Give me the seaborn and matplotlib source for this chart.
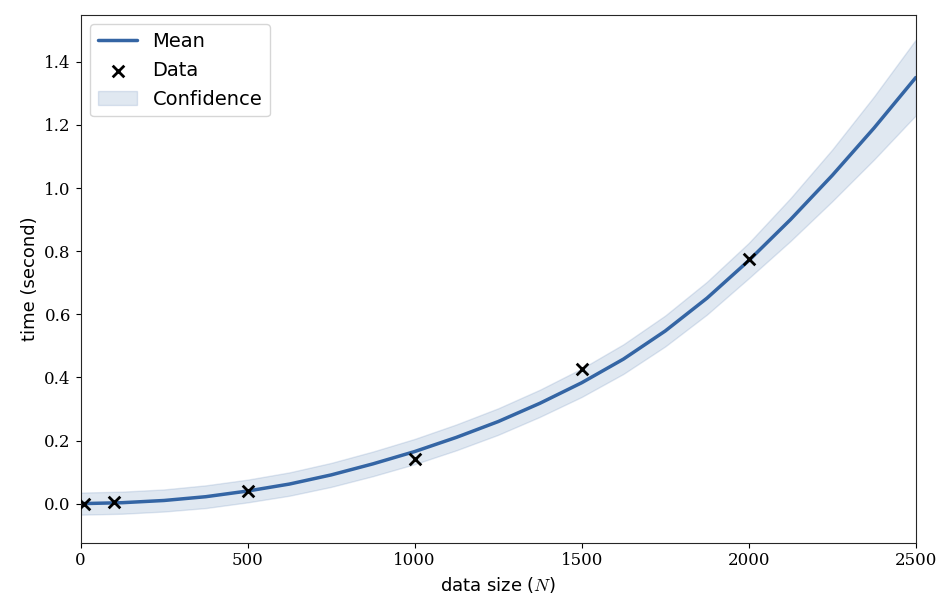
import matplotlib
matplotlib.use("Agg")
import matplotlib.pyplot as plt
import seaborn as sns
import pandas as pd

data_x = [10, 100, 500, 1000, 1500, 2000]
data_y = [0.0, 0.004, 0.04, 0.14, 0.425, 0.775]
grid_x = [0, 125, 250, 375, 500, 625, 750, 875, 1000, 1125, 1250, 1375, 1500,
          1625, 1750, 1875, 2000, 2125, 2250, 2375, 2500]
mean_y = [0.0, 0.003, 0.01, 0.022, 0.04, 0.062, 0.091, 0.126, 0.165, 0.21, 0.26,
          0.318, 0.383, 0.458, 0.547, 0.651, 0.77, 0.9, 1.04, 1.19, 1.35]
half_w = [0.035, 0.035, 0.035, 0.036, 0.036, 0.037, 0.038, 0.039, 0.04, 0.041,
          0.042, 0.043, 0.045, 0.047, 0.049, 0.052, 0.056, 0.068, 0.082, 0.1, 0.12]

sns.set_style("ticks")
plt.rcParams['mathtext.fontset'] = 'cm'
for k in ['text.color', 'axes.labelcolor', 'xtick.color', 'ytick.color']:
    plt.rcParams[k] = 'black'
fig, ax = plt.subplots(figsize=(9.48, 6.14), dpi=100)
fig.subplots_adjust(left=0.085, right=0.966, top=0.976, bottom=0.116)
c = "#3465a4"
lo = [m - h for m, h in zip(mean_y, half_w)]
hi = [m + h for m, h in zip(mean_y, half_w)]
ax.fill_between(grid_x, lo, hi, color=c, alpha=0.15, label="Confidence")
sns.lineplot(x=grid_x, y=mean_y, ax=ax, color=c, lw=2.5, label="Mean")
sns.scatterplot(x=data_x, y=data_y, ax=ax, marker="x", color="black", s=70,
                linewidth=2, label="Data", zorder=5)
h, l = ax.get_legend_handles_labels()
order = [l.index("Mean"), l.index("Data"), l.index("Confidence")]
ax.legend([h[i] for i in order], [l[i] for i in order], loc="upper left",
          fontsize=14, frameon=True, edgecolor="#cccccc")
ax.set_xlim(0, 2500)
ax.set_ylim(-0.124, 1.549)
ax.set_xticks([0, 500, 1000, 1500, 2000, 2500])
ax.set_yticks([0, 0.2, 0.4, 0.6, 0.8, 1.0, 1.2, 1.4])
ax.set_yticklabels([f"{v:.1f}" for v in [0, 0.2, 0.4, 0.6, 0.8, 1.0, 1.2, 1.4]])
for t in ax.get_xticklabels() + ax.get_yticklabels():
    t.set_fontfamily("DejaVu Serif")
    t.set_fontsize(12)
ax.set_xlabel("data size ($N$)", fontsize=13)
ax.set_ylabel("time (second)", fontsize=13)
fig.savefig("out.png", dpi=100)
